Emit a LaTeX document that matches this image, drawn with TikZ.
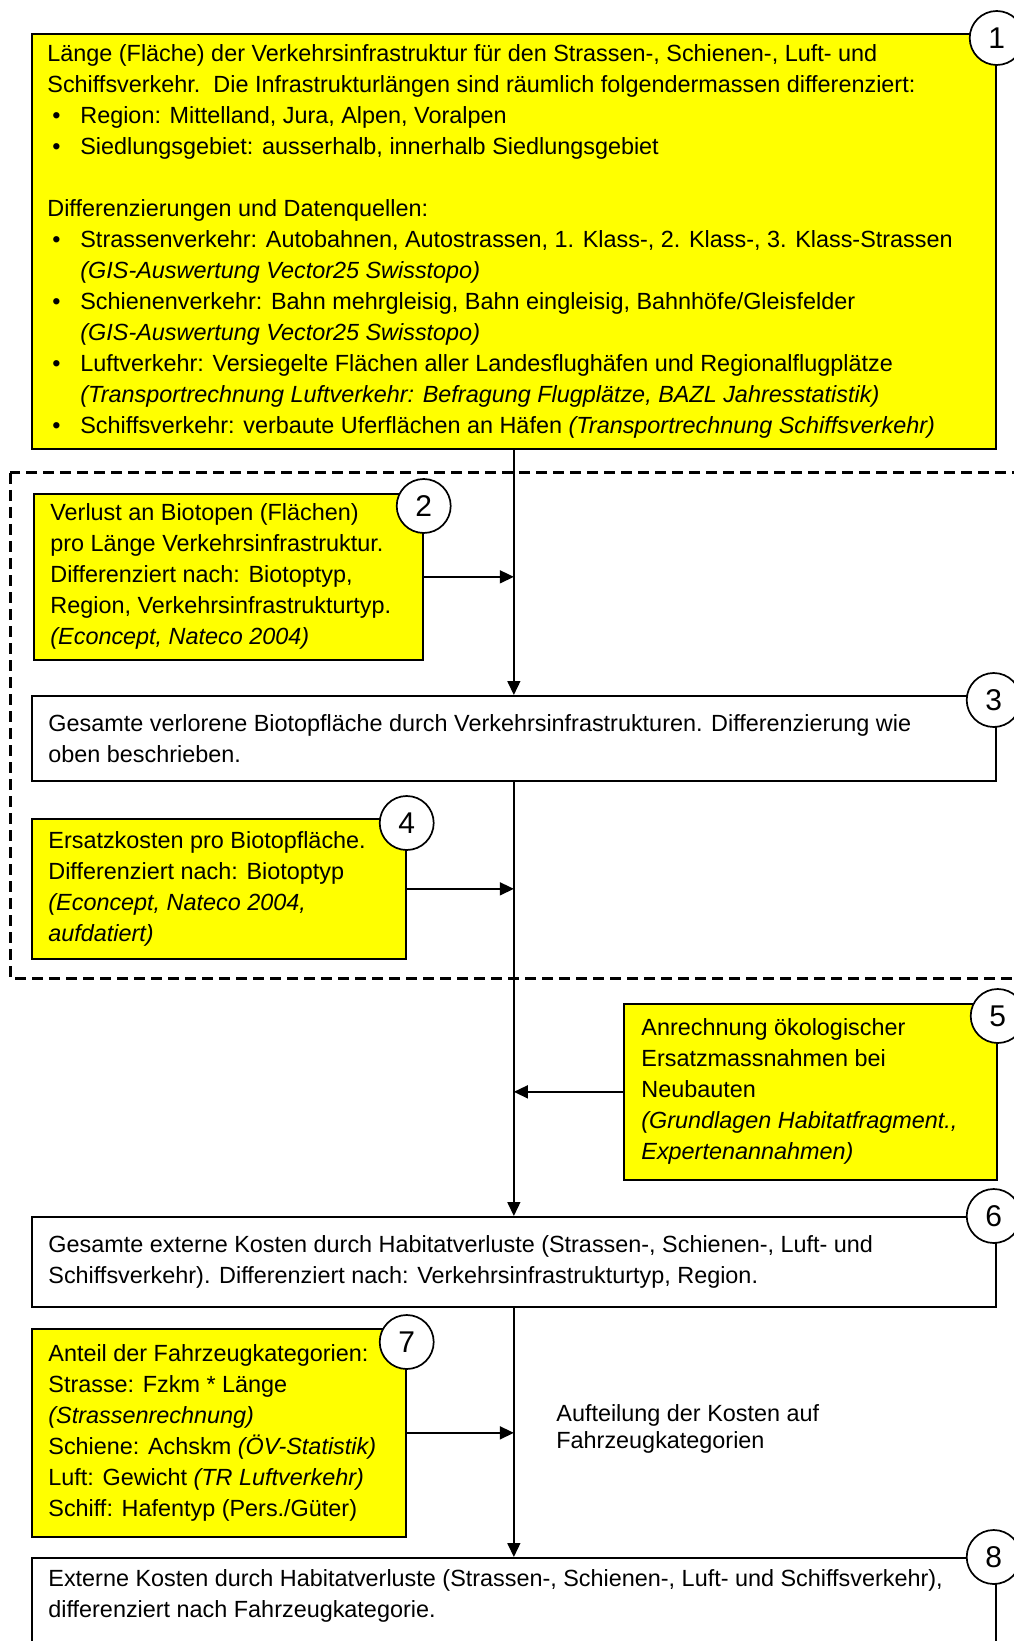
\documentclass[tikz,border=0pt]{standalone}
\usepackage{fontspec}
\setmainfont{Liberation Sans}
\usetikzlibrary{arrows.meta, positioning, calc}
\definecolor{boxyellow}{RGB}{255,255,0}
\newcommand{\bul}{\hspace*{2.5pt}\makebox[14pt][l]{\textbullet}}
\newcommand{\ind}{\hspace*{16.5pt}}

\begin{document}
\begin{tikzpicture}[x=0.5pt, y=-0.5pt,
    ybox/.style={draw, fill=boxyellow, line width=0.85pt, anchor=north west, inner sep=0pt},
    wbox/.style={draw, fill=white, line width=0.85pt, anchor=north west, inner sep=0pt},
    txt/.style={anchor=west, align=left, inner sep=0pt, font=\fontsize{11.7}{15.5}\selectfont},
    num/.style={draw, circle, fill=white, line width=0.85pt, minimum size=27pt, inner sep=0pt, font=\fontsize{15}{15}\selectfont},
    arrow/.style={-{Triangle[length=7pt, width=6.5pt]}, line width=0.75pt}
]
\useasboundingbox (0,0) rectangle (1013,1641);

\draw[line width=1.5pt, dash pattern=on 5.5pt off 3pt] (10,473) rectangle (1040,978);

\node[ybox, minimum width=482pt, minimum height=207.5pt] (b1) at (31,33) {};
\node[ybox, minimum width=194.5pt, minimum height=83pt] (b2) at (33,493) {};
\node[wbox, minimum width=482pt, minimum height=42.5pt] (b3) at (31,695) {};
\node[ybox, minimum width=187pt, minimum height=70pt] (b4) at (31,818) {};
\node[ybox, minimum width=186.5pt, minimum height=88pt] (b5) at (623,1003) {};
\node[wbox, minimum width=482pt, minimum height=45pt] (b6) at (31,1216) {};
\node[ybox, minimum width=187pt, minimum height=104pt] (b7) at (31,1328) {};
\node[wbox, minimum width=482pt, minimum height=60pt] (b8) at (31,1557) {};

\node[txt] (t1) at ([xshift=8pt]b1.west) {%
Länge (Fläche) der Verkehrsinfrastruktur für den Strassen-, Schienen-, Luft- und\\
Schiffsverkehr.\ \ Die Infrastrukturlängen sind räumlich folgendermassen differenziert:\\
\bul Region: Mittelland, Jura, Alpen, Voralpen\\
\bul Siedlungsgebiet: ausserhalb, innerhalb Siedlungsgebiet\\[15.5pt]
Differenzierungen und Datenquellen:\\
\bul Strassenverkehr: Autobahnen, Autostrassen, 1. Klass-, 2. Klass-, 3. Klass-Strassen\\
\ind\textit{(GIS-Auswertung Vector25 Swisstopo)}\\
\bul Schienenverkehr: Bahn mehrgleisig, Bahn eingleisig, Bahnhöfe/Gleisfelder\\
\ind\textit{(GIS-Auswertung Vector25 Swisstopo)}\\
\bul Luftverkehr: Versiegelte Flächen aller Landesflughäfen und Regionalflugplätze\\
\ind\textit{(Transportrechnung Luftverkehr: Befragung Flugplätze, BAZL Jahresstatistik)}\\
\bul Schiffsverkehr: verbaute Uferflächen an Häfen \textit{(Transportrechnung Schiffsverkehr)}};
\node[txt] (t2) at ([xshift=8.5pt]b2.west) {Verlust an Biotopen (Flächen)\\pro Länge Verkehrsinfrastruktur.\\Differenziert nach: Biotoptyp,\\Region, Verkehrsinfrastrukturtyp.\\\textit{(Econcept, Nateco 2004)}};
\node[txt] (t3) at ([xshift=8.5pt]b3.west) {Gesamte verlorene Biotopfläche durch Verkehrsinfrastrukturen. Differenzierung wie\\oben beschrieben.};
\node[txt] (t4) at ([xshift=8.5pt]b4.west) {Ersatzkosten pro Biotopfläche.\\Differenziert nach: Biotoptyp\\\textit{(Econcept, Nateco 2004,}\\\textit{aufdatiert)}};
\node[txt] (t5) at ([xshift=9pt]b5.west) {Anrechnung ökologischer\\Ersatzmassnahmen bei\\Neubauten\\\textit{(Grundlagen Habitatfragment.,}\\\textit{Expertenannahmen)}};
\node[txt] (t6) at ([xshift=8.5pt]b6.west) {Gesamte externe Kosten durch Habitatverluste (Strassen-, Schienen-, Luft- und\\Schiffsverkehr). Differenziert nach: Verkehrsinfrastrukturtyp, Region.};
\node[txt] (t7) at ([xshift=8.5pt]b7.west) {Anteil der Fahrzeugkategorien:\\Strasse: Fzkm * Länge\\\textit{(Strassenrechnung)}\\Schiene: Achskm \textit{(ÖV-Statistik)}\\Luft: Gewicht \textit{(TR Luftverkehr)}\\Schiff: Hafentyp (Pers./Güter)};
\node[txt] (t8) at (48,1596) {Externe Kosten durch Habitatverluste (Strassen-, Schienen-, Luft- und Schiffsverkehr),\\differenziert nach Fahrzeugkategorie.};
\node[txt, font=\fontsize{11.7}{13.5}\selectfont] (split) at (556,1429) {Aufteilung der Kosten auf\\Fahrzeugkategorien};

\node[num] (n1) at ([yshift=-2.5pt]b1.north east) {1};
\node[num] (n2) at ([yshift=-6.5pt]b2.north east) {2};
\node[num] (n3) at ([xshift=-1.5pt, yshift=-2.5pt]b3.north east) {3};
\node[num] (n4) at ([yshift=-2.5pt]b4.north east) {4};
\node[num] (n5) at ([yshift=-6.5pt]b5.north east) {5};
\node[num] (n6) at ([xshift=-1.5pt]b6.north east) {6};
\node[num] (n7) at ([yshift=-7pt]b7.north east) {7};
\node[num] (n8) at ([xshift=-1.5pt]b8.north east) {8};

\draw[arrow] (b1.south) -- (b3.north);
\draw[arrow] (b3.south) -- (b6.north);
\draw[arrow] (b6.south) -- (b8.north);
\draw[arrow] (b2.east) -- (b2.east -| b1.south);
\draw[arrow] (b4.east) -- (b4.east -| b3.south);
\draw[arrow] (b5.west) -- (b5.west -| b3.south);
\draw[arrow] (b7.east) -- (b7.east -| b6.south);

\end{tikzpicture}
\end{document}
